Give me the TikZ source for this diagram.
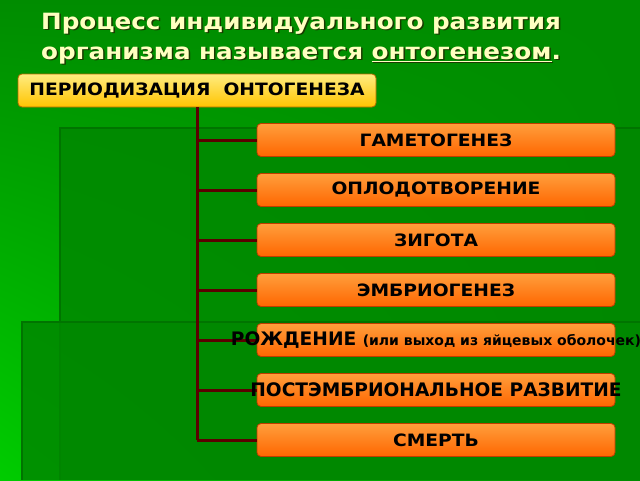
\documentclass[tikz,border=0pt]{standalone}
\usepackage{fontspec}
\setmainfont{DejaVu Sans}
\newfontfamily\widefont[FakeStretch=1.1]{DejaVu Sans}
\usetikzlibrary{positioning,calc,shadings}
\definecolor{bggreen}{HTML}{008C00}
\definecolor{bglight}{HTML}{00CC00}
\definecolor{panelgreen}{HTML}{008800}
\definecolor{panelline}{HTML}{007400}
\definecolor{titleyellow}{HTML}{FFFFC0}
\definecolor{titleshadow}{HTML}{1A3A00}
\definecolor{roottop}{HTML}{FFEC80}
\definecolor{rootbot}{HTML}{FFC400}
\definecolor{rootline}{HTML}{B86A00}
\definecolor{stagetop}{HTML}{FF9E3C}
\definecolor{stagebot}{HTML}{FF6600}
\definecolor{stageline}{HTML}{C03C00}
\definecolor{branchred}{HTML}{5A0000}
\tikzset{
  stagebox/.style={draw=stageline, line width=0.8pt, rounded corners=4pt,
    minimum width=358pt, minimum height=33pt, inner sep=0pt,
    top color=stagetop, bottom color=stagebot},
  rootbox/.style={stagebox, draw=rootline, top color=roottop, bottom color=rootbot},
  stagetext/.style={font=\widefont\bfseries\fontsize{17}{17}\selectfont, text=black, inner sep=0pt},
  bigtext/.style={font=\bfseries\fontsize{18.6}{18.6}\selectfont, text=black, inner sep=0pt},
  titletext/.style={font=\widefont\bfseries\fontsize{22.4}{22.4}\selectfont, anchor=base west, inner sep=0pt},
  branch/.style={draw=branchred, line width=3pt},
}
\begin{document}
\begin{tikzpicture}[x=1pt,y=-1pt]
  \useasboundingbox (0,0) rectangle (640,480);
  % background
  \fill[bggreen] (0,0) rectangle (640,480);
  \shade[upper left=bggreen, upper right=bggreen, lower right=bggreen, lower left=bglight] (0,0) rectangle (640,480);
  \fill[panelgreen, opacity=0.85] (60,128) rectangle (640,480);
  \draw[panelline, line width=1.5pt] (640,128) -- (60,128) -- (60,480);
  \fill[panelgreen, opacity=0.85] (22,322) rectangle (640,480);
  \draw[panelline, line width=1.5pt] (640,322) -- (22,322) -- (22,480);
  % title
  \node[titletext, text=titleshadow] (title1s) at (42.5,30.5) {Процесс индивидуального развития};
  \node[titletext, text=titleshadow] (title2s) at (42.5,60.5) {организма называется \underline{онтогенезом}.};
  \node[titletext, text=titleyellow] (title1) at (41,29) {Процесс индивидуального развития};
  \node[titletext, text=titleyellow] (title2) at (41,59) {организма называется \underline{онтогенезом}.};
  % tree
  \node[rootbox] (root) at (197,90.5) {};
  \node[stagetext] (roottext) at (root) {ПЕРИОДИЗАЦИЯ\ \ ОНТОГЕНЕЗА};
  \foreach \i in {1,...,7}
    \node[stagebox] (s\i) at (436,90+50*\i) {};
  \draw[branch] (root.south) -- (root.south |- s7.west);
  \foreach \i in {1,...,7}
    \draw[branch] (root.south |- s\i.west) -- (s\i.west);
  \node[stagetext] (t1) at (s1) {ГАМЕТОГЕНЕЗ};
  \node[stagetext] (t2) at (s2) {ОПЛОДОТВОРЕНИЕ};
  \node[stagetext] (t3) at (s3) {ЗИГОТА};
  \node[stagetext] (t4) at (s4) {ЭМБРИОГЕНЕЗ};
  \node[bigtext] (t5) at (s5) {РОЖДЕНИЕ {\fontsize{14}{14}\selectfont (или выход из яйцевых оболочек)}};
  \node[bigtext] (t6) at (s6) {ПОСТЭМБРИОНАЛЬНОЕ РАЗВИТИЕ};
  \node[stagetext] (t7) at (s7) {СМЕРТЬ};
\end{tikzpicture}
\end{document}
